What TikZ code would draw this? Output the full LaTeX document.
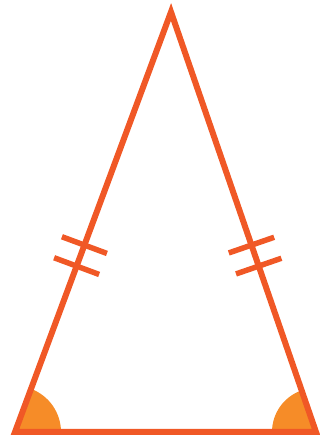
\documentclass[tikz,border=0pt]{standalone}
\usepackage{xcolor}
\usepackage{tikz}
\usetikzlibrary{calc}
\definecolor{trianglered}{RGB}{240,88,38}
\definecolor{angleorange}{RGB}{246,140,40}
\tikzset{
  triangleside/.style={
    draw=trianglered,
    line width=6pt,
    line join=miter
  },
  tickmark/.style={
    draw=trianglered,
    line width=5.5pt
  },
  anglefill/.style={
    fill=angleorange
  }
}

\begin{document}
\begin{tikzpicture}[x=1pt,y=1pt]
\useasboundingbox (0,0) rectangle (320,439);
\coordinate (apex) at (171,427);
\coordinate (left) at (15,7);
\coordinate (right) at (316,7);

% base angles
\fill[anglefill] (left) -- ++(0:46) arc[start angle=0, end angle=69.7, radius=46] -- cycle;
\fill[anglefill] (right) -- ++(180:44) arc[start angle=180, end angle=109, radius=44] -- cycle;

\draw[triangleside] (apex) -- (left) -- (right) -- cycle;

% equal sides
\coordinate (lefttickA) at ($(left)!0.445!(apex)$);
\coordinate (lefttickB) at ($(left)!0.395!(apex)$);
\coordinate (righttickA) at ($(right)!0.445!(apex)$);
\coordinate (righttickB) at ($(right)!0.395!(apex)$);
\foreach \t in {lefttickA,lefttickB,righttickA,righttickB}
  \draw[tickmark] ($(\t)!24pt!90:(apex)$) -- ($(\t)!24pt!-90:(apex)$);
\end{tikzpicture}
\end{document}
